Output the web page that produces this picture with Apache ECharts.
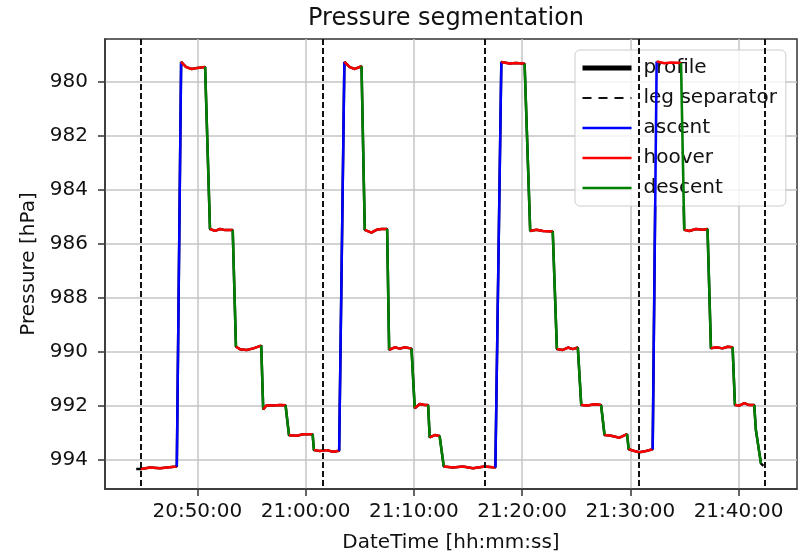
<!DOCTYPE html>
<html><head><meta charset="utf-8">
<script src="https://cdn.jsdelivr.net/npm/echarts@6/dist/echarts.min.js"></script>
<style>html,body{margin:0;padding:0;background:#fff}#c{width:799px;height:553px}</style>
</head><body><div id="c"></div>
<script>
// ---- data ----
const profileTime = [
 '20:44:21','20:44:47','20:45:38','20:46:33','20:47:12','20:48:06','20:48:30','20:48:58','20:49:29','20:50:00',
 '20:50:43','20:51:10','20:51:38','20:52:06','20:52:33','20:53:16','20:53:34','20:53:56','20:54:33','20:55:10',
 '20:55:54','20:56:05','20:56:24','20:57:01','20:57:38','20:58:09','20:58:28','20:59:10','20:59:47','21:00:39',
 '21:00:46','21:01:19','21:01:56','21:02:33','21:03:06','21:03:35','21:04:05','21:04:33','21:05:10','21:05:28',
 '21:06:05','21:06:33','21:07:01','21:07:32','21:07:43','21:08:14','21:08:42','21:09:10','21:09:47','21:10:05',
 '21:10:33','21:11:00','21:11:19','21:11:28','21:11:56','21:12:23','21:12:46','21:13:37','21:14:32','21:15:28',
 '21:16:32','21:17:32','21:18:05','21:18:51','21:19:28','21:20:14','21:20:45','21:21:19','21:21:55','21:22:50',
 '21:23:13','21:23:46','21:24:14','21:24:41','21:25:09','21:25:28','21:26:04','21:26:41','21:27:18','21:27:37',
 '21:28:14','21:29:00','21:29:42','21:29:51','21:30:23','21:30:50','21:31:27','21:32:04','21:32:26','21:33:09',
 '21:33:47','21:34:41','21:34:59','21:35:27','21:36:04','21:36:41','21:37:08','21:37:27','21:37:55','21:38:31',
 '21:38:59','21:39:27','21:39:40','21:40:04','21:40:32','21:40:59','21:41:27','21:41:36','21:42:04','21:42:18'
];
const profilePressure = [
 994.36,994.36,994.30,994.33,994.30,994.27,979.28,979.47,979.54,979.50,
 979.47,985.47,985.54,985.47,985.51,985.51,989.83,989.92,989.95,989.89,
 989.79,992.15,992.00,992.01,991.99,992.00,993.11,993.13,993.07,993.07,
 993.66,993.69,993.66,993.72,993.68,979.28,979.47,979.54,979.44,985.50,
 985.60,985.50,985.47,985.47,989.95,989.85,989.90,989.85,989.90,992.11,
 991.95,991.99,991.99,993.19,993.10,993.14,994.27,994.30,994.27,994.33,
 994.27,994.30,979.28,979.34,979.32,979.35,985.54,985.50,985.54,985.56,
 989.91,989.95,989.86,989.92,989.86,991.99,992.01,991.96,991.99,993.10,
 993.13,993.20,993.07,993.63,993.69,993.74,993.69,993.63,979.26,979.33,
 979.30,979.32,985.50,985.54,985.47,985.50,985.47,989.89,989.85,989.89,
 989.83,989.85,991.99,992.01,991.92,991.99,991.99,992.91,994.15,994.24
];
// index in the profile where each phase begins (a phase runs to the next start)
const phaseStart = [1,5,6,10,11,15,16,20,21,25,26,29,30,34,35,38,39,43,44,48,49,52,53,55,56,61,62,65,66,69,70,74,75,78,79,82,83,87,88,91,92,96,97,101,102,106,108];
const phaseName = ['hoover','ascent','hoover','descent','hoover','descent','hoover','descent','hoover','descent','hoover','descent','hoover','ascent','hoover','descent','hoover','descent','hoover','descent','hoover','descent','hoover','descent','hoover','ascent','hoover','descent','hoover','descent','hoover','descent','hoover','descent','hoover','descent','hoover','ascent','hoover','descent','hoover','descent','hoover','descent','hoover','descent',null];
const legSeparatorTime = ['20:44:47','21:01:37','21:16:32','21:30:45','21:42:26'];
const xTickLabels = ['20:50:00','21:00:00','21:10:00','21:20:00','21:30:00','21:40:00'];
const yTickLabels = [980,982,984,986,988,990,992,994];
const xRange = ['20:41:28','21:45:24'];
const yRange = [978.43, 995.10];

// ---- helpers ----
function toMin(s){const p=s.split(':').map(Number);return p[0]*60+p[1]+p[2]/60;}
function fmt(v){let s=Math.round(v*60);const h=Math.floor(s/3600);s-=h*3600;const m=Math.floor(s/60);s-=m*60;
  return String(h).padStart(2,'0')+':'+String(m).padStart(2,'0')+':'+String(s).padStart(2,'0');}
const colors = {ascent:'#0000ff', hoover:'#ff0000', descent:'#008000'};
const FONT = 'DejaVu Sans';

const profileData = profileTime.map((t,i)=>[toMin(t), profilePressure[i]]);
const series = [];
series.push({name:'profile', type:'line', data:profileData, symbol:'none', z:2,
  lineStyle:{color:'#000', width:2.5}, itemStyle:{color:'#000'}});
series.push({name:'leg separator', type:'line', data:[], symbol:'none', z:3,
  lineStyle:{color:'#111', width:2, type:[6,3]}, itemStyle:{color:'#111'},
  markLine:{silent:true, symbol:['none','none'], label:{show:false},
    lineStyle:{color:'#111', width:2, type:[6,3]},
    emphasis:{disabled:true},
    data:legSeparatorTime.map(t=>({xAxis:toMin(t)}))}});
for(let i=0;i<phaseStart.length;i++){
  const nm = phaseName[i]; if(!nm) continue;
  const end = i+1<phaseStart.length ? phaseStart[i+1] : profileData.length-1;
  series.push({name:nm, type:'line', symbol:'none', z:4,
    data:profileData.slice(phaseStart[i], end+1),
    lineStyle:{color:colors[nm], width:2.5}, itemStyle:{color:colors[nm]}});
}

const hiddenSymbol = {color:'rgba(0,0,0,0)', borderWidth:0, opacity:0};
const chart = echarts.init(document.getElementById('c'), null, {renderer:'canvas'});
chart.setOption({
  animation:false,
  backgroundColor:'#fff',
  title:{text:'Pressure segmentation', left:308, top:0, padding:[7,0,0,0],
    textStyle:{fontFamily:FONT, fontSize:24, fontWeight:'normal', color:'#111'}},
  legend:{orient:'vertical', left:575, top:50, padding:[8,9,8,5],
    itemWidth:49, itemHeight:20, itemGap:10,
    backgroundColor:'rgba(255,255,255,0.8)', borderColor:'#cccccc', borderWidth:1, borderRadius:5,
    textStyle:{fontFamily:FONT, fontSize:20, color:'#111', padding:[0,0,0,7]},
    itemStyle:hiddenSymbol,
    selectedMode:false,
    data:[
      {name:'profile', lineStyle:{width:5, color:'#000'}, itemStyle:hiddenSymbol},
      {name:'leg separator', lineStyle:{width:2, type:[9,7], color:'#111'}, itemStyle:hiddenSymbol},
      {name:'ascent', lineStyle:{width:2.5}, itemStyle:hiddenSymbol},
      {name:'hoover', lineStyle:{width:2.5}, itemStyle:hiddenSymbol},
      {name:'descent', lineStyle:{width:2.5}, itemStyle:hiddenSymbol}
    ]},
  grid:{left:105, right:2, top:39, bottom:64, outerBoundsMode:'none', containLabel:false,
    show:true, borderColor:'#333', borderWidth:1.5, backgroundColor:'#fff'},
  xAxis:{type:'value', min:toMin(xRange[0]), max:toMin(xRange[1]),
    name:'DateTime [hh:mm:ss]', nameLocation:'middle', nameGap:44,
    nameTextStyle:{fontFamily:FONT, fontSize:20, color:'#111'},
    axisLine:{show:true, lineStyle:{color:'#333', width:1.5}},
    axisTick:{show:true, length:7, customValues:xTickLabels.map(toMin), lineStyle:{color:'#333', width:1.5}},
    axisLabel:{customValues:xTickLabels.map(toMin), formatter:fmt, fontFamily:FONT, fontSize:20, color:'#111', margin:13},
    splitLine:{show:true, lineStyle:{color:'#c4c4c4', width:1.5}}},
  yAxis:{type:'value', inverse:true, min:yRange[0], max:yRange[1],
    name:'Pressure [hPa]', nameLocation:'middle', nameGap:64,
    nameTextStyle:{fontFamily:FONT, fontSize:20, color:'#111'},
    axisLine:{show:true, lineStyle:{color:'#333', width:1.5}},
    axisTick:{show:true, length:7, customValues:yTickLabels, lineStyle:{color:'#333', width:1.5}},
    axisLabel:{customValues:yTickLabels, fontFamily:FONT, fontSize:20, color:'#111', margin:17},
    splitLine:{show:true, lineStyle:{color:'#c4c4c4', width:1.5}}},
  series:series
});
</script></body></html>
